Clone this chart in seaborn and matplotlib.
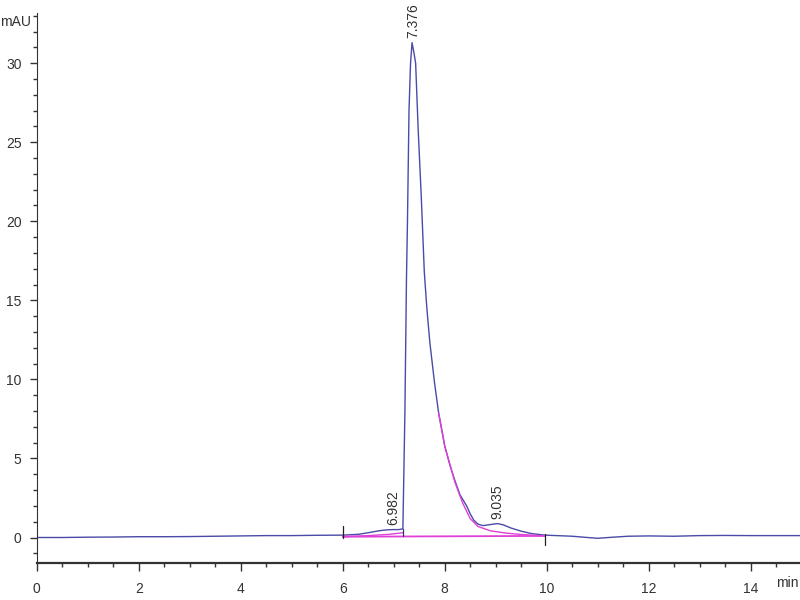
import matplotlib
matplotlib.use("Agg")
import matplotlib.pyplot as plt
from matplotlib.ticker import MultipleLocator
import pandas as pd
import seaborn as sns

# ── Chromatogram signal (min, mAU) ──
time_min = [0.0, 0.5, 1.0, 1.5, 2.0, 2.5, 3.0, 3.5, 4.0, 4.5, 5.0, 5.5, 6.0,
            6.3, 6.5, 6.7, 6.85, 6.98, 7.1, 7.18, 7.22, 7.25, 7.27, 7.30,
            7.33, 7.36, 7.40, 7.43, 7.48, 7.54, 7.60, 7.65, 7.71, 7.80,
            7.88, 8.0, 8.1, 8.2, 8.3, 8.43, 8.5, 8.57, 8.65, 8.75, 8.85,
            9.035, 9.15, 9.3, 9.5, 9.7, 9.96, 10.2, 10.5, 10.8, 11.0, 11.3,
            11.6, 12.0, 12.5, 13.0, 13.5, 14.0, 14.5, 15.0]
signal_mau = [0.0, 0.0, 0.02, 0.03, 0.05, 0.05, 0.06, 0.08, 0.1, 0.12, 0.12,
              0.14, 0.15, 0.2, 0.3, 0.42, 0.48, 0.5, 0.5, 0.55, 8.0, 16.3,
              20.0, 27.0, 30.0, 31.3, 30.6, 30.0, 25.8, 21.6, 16.8, 14.5,
              12.3, 9.8, 7.9, 5.8, 4.6, 3.6, 2.7, 2.0, 1.5, 1.1, 0.85, 0.75,
              0.8, 0.88, 0.8, 0.6, 0.4, 0.25, 0.15, 0.12, 0.08, 0.0, -0.05,
              0.02, 0.08, 0.1, 0.08, 0.12, 0.13, 0.12, 0.12, 0.12]

# integration baseline and tail fit (magenta)
base_time = [6.0, 9.96]
base_mau = [0.05, 0.1]
tail_time = [7.88, 8.0, 8.2, 8.35, 8.5, 8.65, 8.9, 9.2, 9.5, 9.96]
tail_mau = [7.9, 5.8, 3.5, 2.2, 1.2, 0.7, 0.42, 0.28, 0.19, 0.1]
front_time = [6.0, 6.5, 6.9, 7.18]
front_mau = [0.05, 0.12, 0.2, 0.3]

peak_rt = ["6.982", "7.376", "9.035"]
peak_x = [6.982, 7.376, 9.035]
peak_y = [0.5, 31.3, 0.88]

x_ticks = [0, 2, 4, 6, 8, 10, 12, 14]
y_ticks = [0, 5, 10, 15, 20, 25, 30]

sns.set_style("ticks")
plt.rcParams["font.family"] = ["Liberation Sans", "DejaVu Sans"]

line_col = "#4a4aa8"
fit_col = "#e040d8"

fig = plt.figure(figsize=(8, 6), dpi=100)
ax = fig.add_axes([0.046, 0.062, 0.956, 0.917])

sig = pd.DataFrame({"t": time_min, "mAU": signal_mau})
sns.lineplot(data=sig, x="t", y="mAU", ax=ax, color=line_col, lw=1.0,
             estimator=None, sort=False)
sns.lineplot(x=tail_time, y=tail_mau, ax=ax, color=fit_col, lw=1.0,
             estimator=None, sort=False)
sns.lineplot(x=front_time, y=front_mau, ax=ax, color=fit_col, lw=1.0,
             estimator=None, sort=False)
sns.lineplot(x=base_time, y=base_mau, ax=ax, color=fit_col, lw=1.3,
             estimator=None, sort=False)

# drop line and baseline start / end markers
ax.plot([7.18, 7.18], [0.07, 0.55], color="#303070", lw=0.9)
ax.plot([6.0, 6.0], [-0.05, 0.75], color="#202020", lw=0.9)
ax.plot([9.96, 9.96], [-0.45, 0.2], color="#202020", lw=0.9)

for lab, px, py in zip(peak_rt, peak_x, peak_y):
    ax.text(px, py + 0.3, lab, rotation=90, ha="center", va="bottom",
            fontsize=10, color="#333333")

ax.set_xlim(0, 15)
ax.set_ylim(-1.6, 33.2)
ax.set_xticks(x_ticks)
ax.set_yticks(y_ticks)
ax.xaxis.set_minor_locator(MultipleLocator(0.5))
ax.yaxis.set_minor_locator(MultipleLocator(1))
ax.tick_params(which="major", length=5, width=1, colors="#333333",
               labelsize=10, pad=6)
ax.tick_params(which="minor", length=3, width=1, colors="#333333")
ax.tick_params(axis="x", which="major", length=6, pad=8)
sns.despine(ax=ax)
for s in ("left", "bottom"):
    ax.spines[s].set_color("#333333")
ax.spines["bottom"].set_linewidth(1.6)
ax.set_xlabel("")
ax.set_ylabel("")

fig.text(787 / 800, 1 - 583 / 600, "min", ha="center", va="center",
         fontsize=10, color="#333333")
fig.text(16 / 800, 1 - 22 / 600, "mAU", ha="center", va="center",
         fontsize=10, color="#333333")

fig.savefig("out.png", dpi=100)
